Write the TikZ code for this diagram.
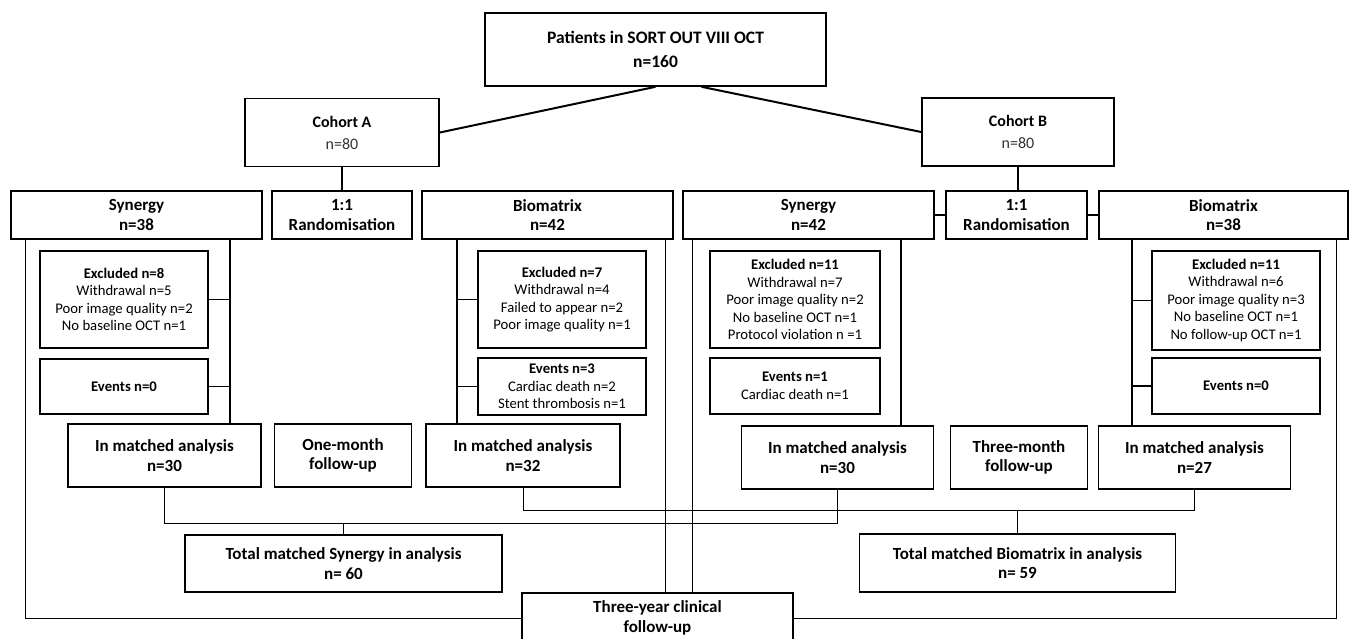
\documentclass[tikz,border=0pt]{standalone}
\usepackage{fontspec}
\setmainfont{Carlito}
\begin{document}
\begin{tikzpicture}[x=1pt, y=-1pt,
            flowbox/.style={draw=black, line width=1.6pt, align=center, inner sep=2pt,
            font=\fontsize{17}{19.5}\selectfont\bfseries},
            notebox/.style={draw=black, line width=1.6pt, align=center, inner sep=2pt,
            font=\fontsize{14.7}{17.5}\selectfont, minimum width=168pt},
            thinline/.style={line width=0.9pt},
            groupline/.style={line width=1.4pt},
            topline/.style={line width=2pt}]
            \useasboundingbox (0,0) rectangle (1351,638);%
            \node[flowbox, minimum width=341pt, minimum height=73pt, 
            font=\fontsize{17.5}{24}\selectfont\bfseries] (pat) at (655.5,49.5) 
            {Patients in SORT OUT VIII OCT\\n=160};%
            \node[flowbox, minimum width=194pt, minimum height=68pt, 
            font=\fontsize{16}{22}\selectfont] (coA) at (342,132.5) 
            {\textbf{Cohort A}\\\textcolor{black!80}{n=80}};%
            \node[flowbox, minimum width=192pt, minimum height=68pt, 
            font=\fontsize{16}{22}\selectfont] (coB) at (1018,132) 
            {\textbf{Cohort B}\\\textcolor{black!80}{n=80}};%
            \node[flowbox, minimum width=251pt, minimum height=48pt] (synA) 
            at (136.5,215) {Synergy\\n=38};%
            \node[flowbox, minimum width=140pt, minimum height=48pt] (randA) 
            at (342,215) {1:1\\Randomisation};%
            \node[flowbox, minimum width=251pt, minimum height=48pt] (bioA) 
            at (547.5,215) {Biomatrix\\n=42};%
            \node[flowbox, minimum width=251pt, minimum height=48pt] (synB) 
            at (808.5,215) {Synergy\\n=42};%
            \node[flowbox, minimum width=141pt, minimum height=48pt] (randB) 
            at (1016.5,215) {1:1\\Randomisation};%
            \node[flowbox, minimum width=249pt, minimum height=48pt] (bioB) 
            at (1223.5,215) {Biomatrix\\n=38};%
            \node[notebox, minimum height=97pt] (exA1) at (124,299.5) 
            {\textbf{Excluded n=8}\\Withdrawal n=5\\Poor image quality n=2\\
            No baseline OCT n=1};%
            \node[notebox, minimum height=55pt] (evA1) at (124,386.5) 
            {\textbf{Events n=0}};%
            \node[notebox, minimum height=97pt] (exA2) at (562,299.5) 
            {\textbf{Excluded n=7}\\Withdrawal n=4\\Failed to appear n=2\\
            Poor image quality n=1};%
            \node[notebox, minimum height=57pt] (evA2) at (562,386.5) 
            {\textbf{Events n=3}\\Cardiac death n=2\\Stent thrombosis n=1};%
            \node[notebox, minimum width=170pt, minimum height=97pt] (exB1) 
            at (795,299.5) {\textbf{Excluded n=11}\\Withdrawal n=7\\
            Poor image quality n=2\\No baseline OCT n=1\\Protocol violation n =1};%
            \node[notebox, minimum width=170pt, minimum height=56pt] (evB1) 
            at (795,386) {\textbf{Events n=1}\\Cardiac death n=1};%
            \node[notebox, minimum height=99pt] (exB2) at (1236,300.5) 
            {\textbf{Excluded n=11}\\Withdrawal n=6\\Poor image quality n=3\\
            No baseline OCT n=1\\No follow-up OCT n=1};%
            \node[notebox, minimum height=56pt] (evB2) at (1236,386) 
            {\textbf{Events n=0}};%
            \node[flowbox, minimum width=193pt, minimum height=63pt] (maA1) 
            at (164.5,455.5) {In matched analysis\\n=30};%
            \node[flowbox, minimum width=137pt, minimum height=63pt] (oneM) 
            at (343,455.5) {One-month\\follow-up};%
            \node[flowbox, minimum width=194pt, minimum height=63pt] (maA2) 
            at (523,455.5) {In matched analysis\\n=32};%
            \node[flowbox, minimum width=192pt, minimum height=63pt] (maB1) 
            at (837.5,457.5) {In matched analysis\\n=30};%
            \node[flowbox, minimum width=137pt, minimum height=63pt] (thrM) 
            at (1019,457.5) {Three-month\\follow-up};%
            \node[flowbox, minimum width=192pt, minimum height=63pt] (maB2) 
            at (1194.5,457.5) {In matched analysis\\n=27};%
            \node[flowbox, minimum width=317pt, minimum height=57pt] (totS) 
            at (343.5,563.5) {Total matched Synergy in analysis\\n= 60};%
            \node[flowbox, minimum width=316pt, minimum height=58pt] (totB) 
            at (1017.5,563) {Total matched Biomatrix in analysis\\n= 59};%
            \node[flowbox, minimum width=271pt, minimum height=50pt] (thrY) 
            at (657.5,618) {Three-year clinical\\follow-up};%
            \coordinate (vA1) at (230,0);%
            \coordinate (vA2) at (457,0);%
            \coordinate (vA3) at (665,0);%
            \coordinate (vB0) at (692,0);%
            \coordinate (vB1) at (901,0);%
            \coordinate (vB2) at (1132,0);%
            \coordinate (oL) at (25,0);%
            \coordinate (oR) at (1336,0);%
            \coordinate (jS) at (343.5,523);%
            \coordinate (jB) at (1017.5,510);%
            \draw[topline] (pat.south) -- (coA.east);%
            \draw[topline] ([xshift=46pt]pat.south) -- (coB.west);%
            \draw[groupline] (coA.south) -- (coA.south |- randA.north);%
            \draw[groupline] (coB.south) -- (coB.south |- randB.north);%
            \draw[groupline] (synB.east) -- (randB.west);%
            \draw[groupline] (randB.east) -- (bioB.west);%
            \draw[groupline] (synA.south -| vA1) -- (maA1.north -| vA1);%
            \draw[groupline] (exA1.east) -- (exA1.east -| vA1);%
            \draw[groupline] (evA1.east) -- (evA1.east -| vA1);%
            \draw[groupline] (bioA.south -| vA2) -- (maA2.north -| vA2);%
            \draw[groupline] (exA2.west) -- (exA2.west -| vA2);%
            \draw[groupline] (evA2.west) -- (evA2.west -| vA2);%
            \draw[groupline] (synB.south -| vB1) -- (maB1.north -| vB1);%
            \draw[groupline] (bioB.south -| vB2) -- (maB2.north -| vB2);%
            \draw[groupline] (exB2.west) -- (exB2.west -| vB2);%
            \draw[groupline] (evB2.west) -- (evB2.west -| vB2);%
            \draw[thinline] (bioA.south -| vA3) -- (thrY.north -| vA3);%
            \draw[thinline] (synB.south -| vB0) -- (thrY.north -| vB0);%
            \draw[thinline] (synA.south -| oL) |- (thrY.west);%
            \draw[thinline] (bioB.south -| oR) |- (thrY.east);%
            \draw[thinline] (maA1.south) |- (maB1.south |- jS) -- (maB1.south);%
            \draw[thinline] (jS) -- (totS.north);%
            \draw[thinline] (maA2.south) |- (maB2.south |- jB) -- (maB2.south);%
            \draw[thinline] (jB) -- (totB.north);%
        \end{tikzpicture}
\end{document}
